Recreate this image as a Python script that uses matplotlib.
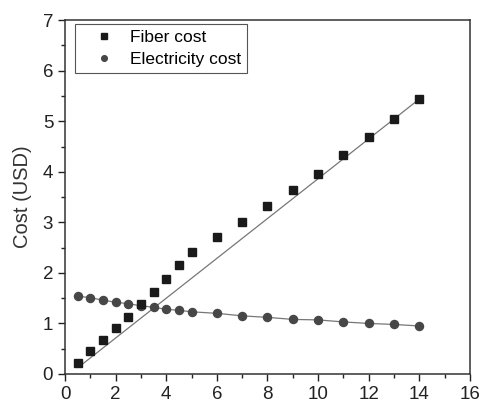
import numpy as np
import matplotlib.pyplot as plt
from matplotlib.ticker import MultipleLocator

plt.rcParams['font.family'] = ['Liberation Sans', 'DejaVu Sans']

# values
x_vals = [0.5, 1, 1.5, 2, 2.5, 3, 3.5, 4, 4.5, 5, 6, 7, 8, 9, 10, 11, 12, 13, 14]
fiber_cost = [0.22, 0.45, 0.67, 0.90, 1.13, 1.38, 1.63, 1.88, 2.16, 2.42,
              2.71, 3.00, 3.32, 3.64, 3.95, 4.33, 4.68, 5.05, 5.44]
electricity_cost = [1.54, 1.51, 1.46, 1.42, 1.39, 1.35, 1.32, 1.28, 1.26, 1.23,
                    1.20, 1.15, 1.12, 1.08, 1.07, 1.03, 1.00, 0.98, 0.95]
fiber_fit_x = [0.6, 14]
fiber_fit_y = [0.16, 5.44]

fig = plt.figure(figsize=(4.83, 4.04), dpi=100)
ax = fig.add_axes([0.1346, 0.0743, 0.8384, 0.8757])

ax.plot(fiber_fit_x, fiber_fit_y, color='#777777', lw=0.9, zorder=1)
ax.plot(x_vals, electricity_cost, color='#777777', lw=0.9, zorder=1)
ax.plot(x_vals, fiber_cost, ls='none', marker='s', ms=5.6, color='#1a1a1a',
        label='Fiber cost', zorder=3)
ax.plot(x_vals, electricity_cost, ls='none', marker='o', ms=5.8, color='#474747',
        label='Electricity cost', zorder=2)

ax.set_xlim(0, 16)
ax.set_ylim(0, 7)
ax.xaxis.set_major_locator(MultipleLocator(2))
ax.xaxis.set_minor_locator(MultipleLocator(1))
ax.yaxis.set_major_locator(MultipleLocator(1))
ax.yaxis.set_minor_locator(MultipleLocator(0.5))
ax.tick_params(which='both', direction='out', top=False, right=False, labelsize=13.5,
               color='#222222', labelcolor='#222222')
ax.tick_params(which='major', length=5, width=1)
ax.tick_params(which='minor', length=3, width=1)
for s in ax.spines.values():
    s.set_color('#333333')
    s.set_linewidth(1.1)

ax.set_ylabel('Cost (USD)', fontsize=14.5, color='#333333', labelpad=8)

leg = ax.legend(loc='upper left', bbox_to_anchor=(0.025, 0.989), fontsize=12.5,
                fancybox=False, framealpha=1, edgecolor='#555555', markerscale=0.7,
                handletextpad=0.15, borderpad=0.32, labelspacing=0.42, handlelength=2.7,
                borderaxespad=0)
leg.get_frame().set_linewidth(0.8)

fig.savefig('out.png', dpi=100)
